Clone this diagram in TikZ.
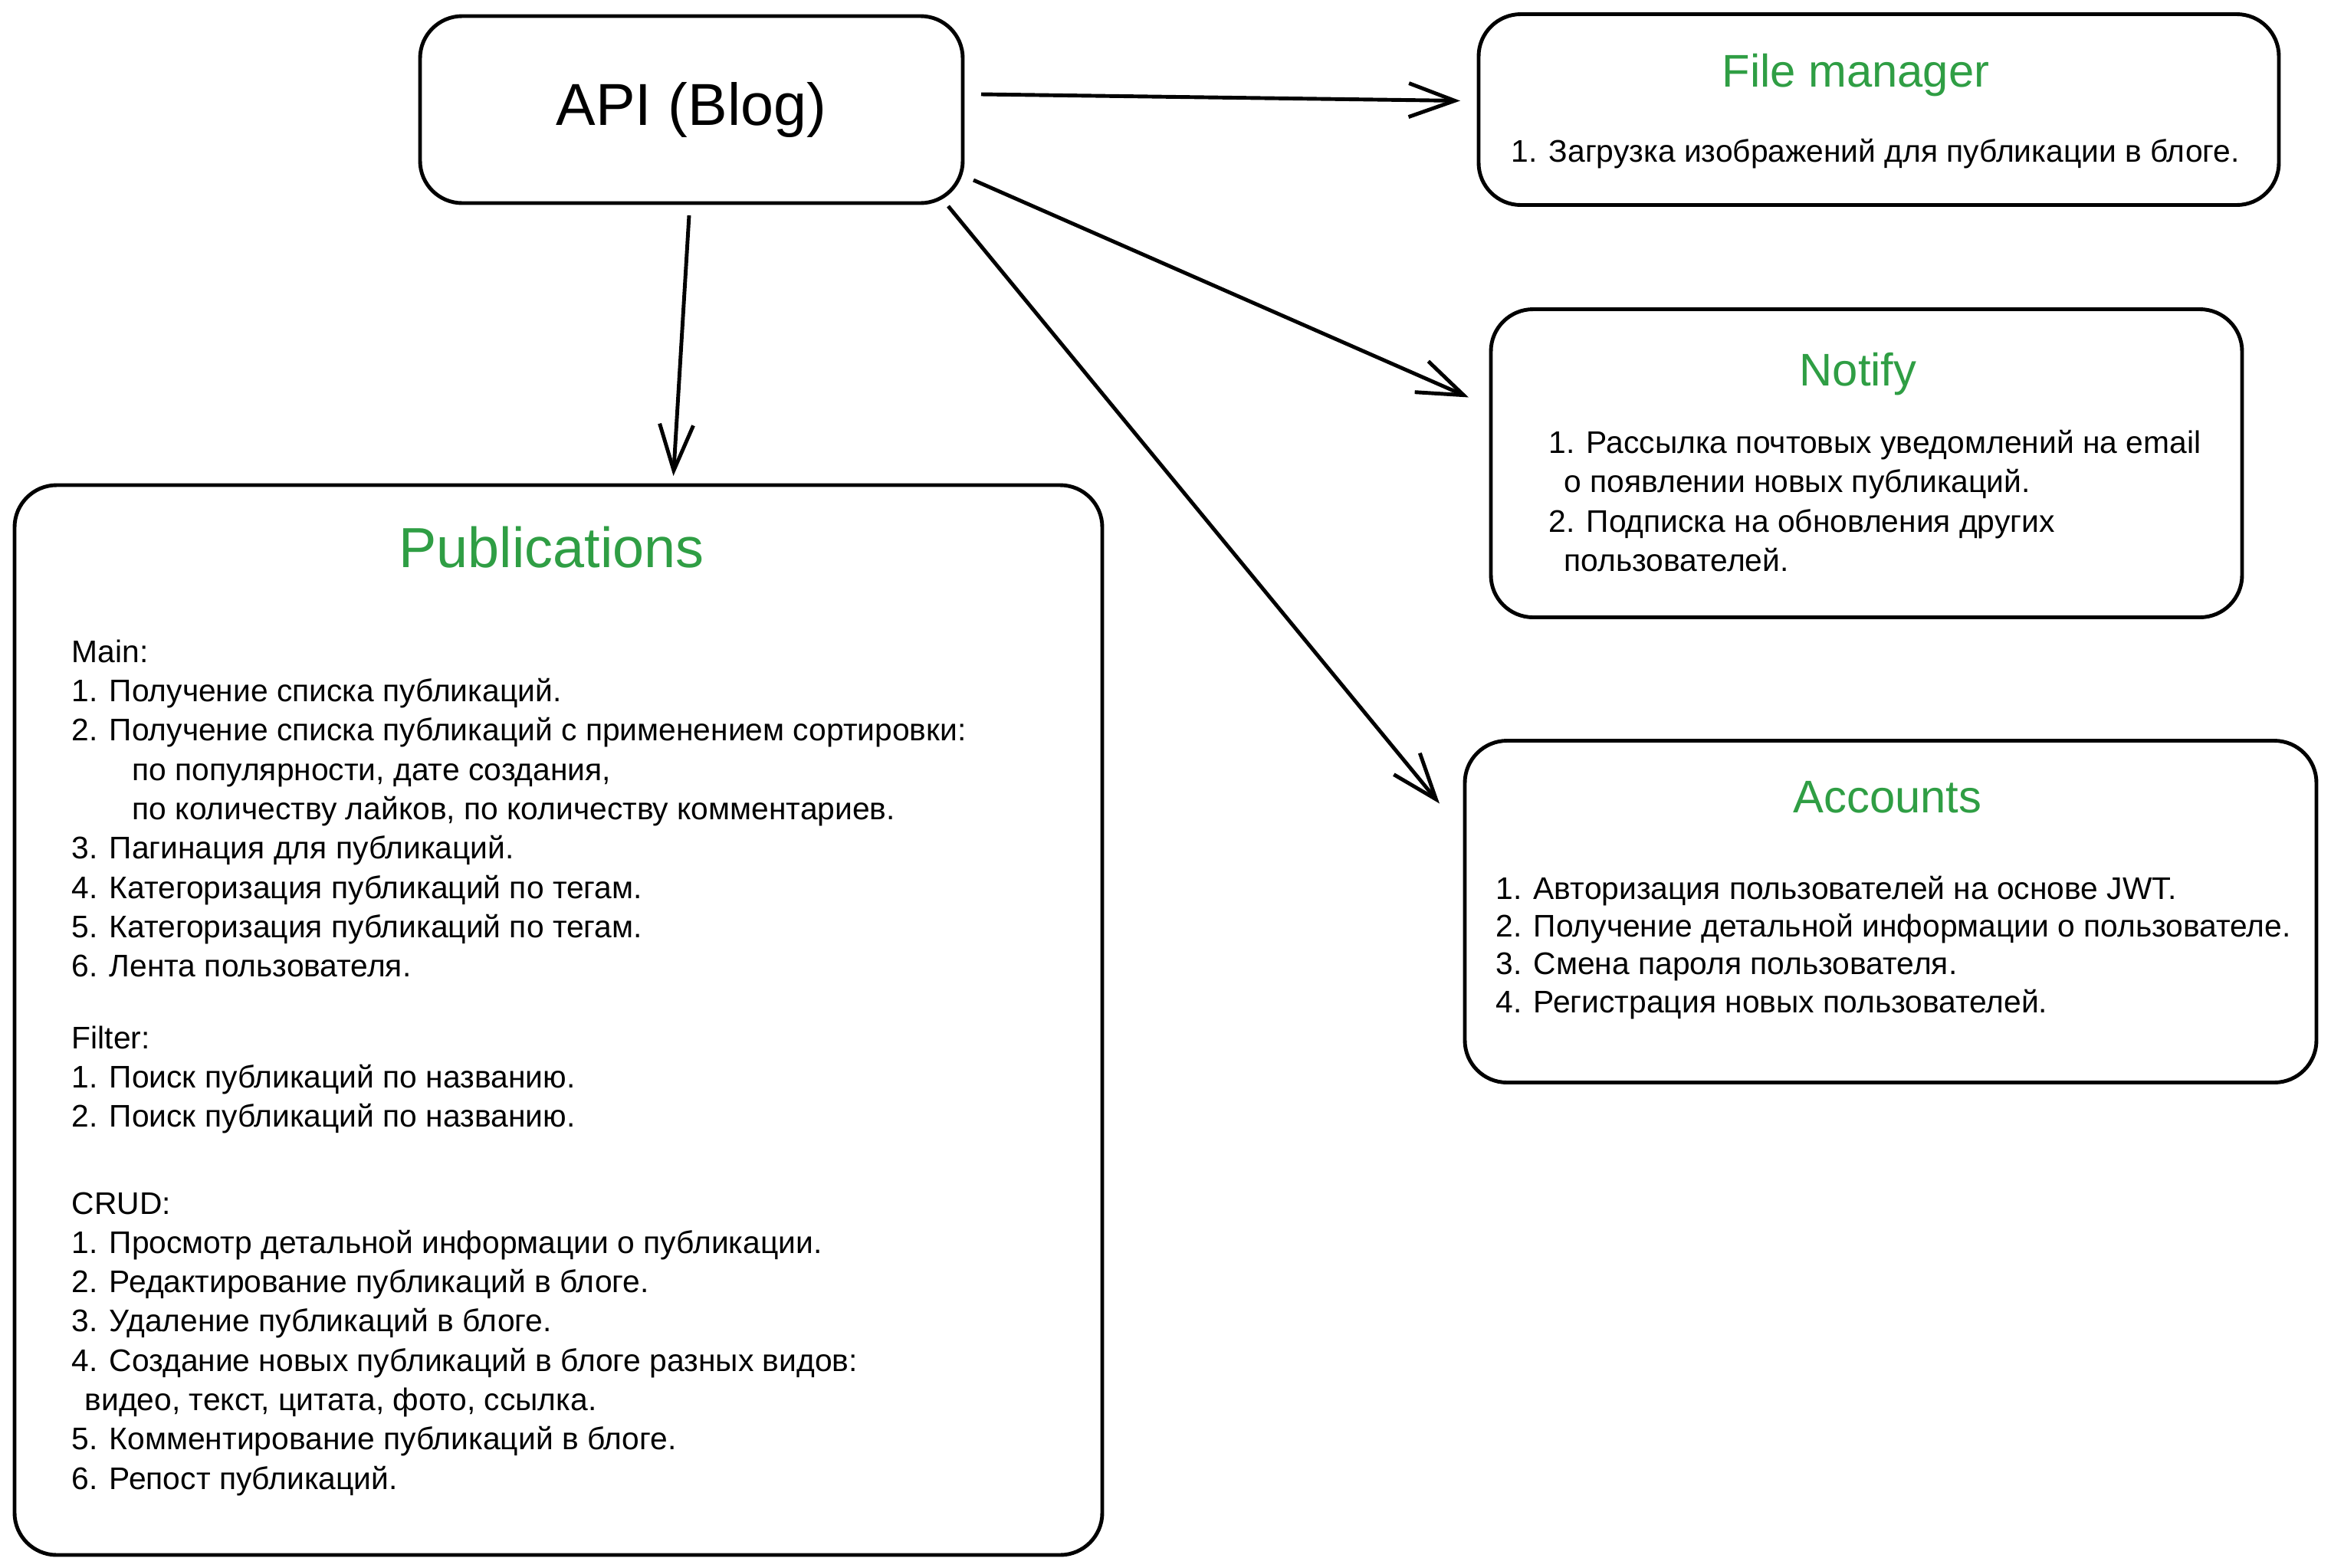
\documentclass[tikz,border=0pt]{standalone}
\usepackage{fontspec}
\setmainfont{Liberation Sans}
\usepackage{xcolor}
\usetikzlibrary{shapes,arrows.meta,positioning,calc}
\definecolor{titlegreen}{HTML}{2F9E44}

\begin{document}
\begin{tikzpicture}[
    box/.style={rectangle, draw, line width=1.4pt, rounded corners=0.55cm, outer sep=0pt, anchor=north west},
    title/.style={text=titlegreen, font=\fontsize{17}{20}\selectfont, anchor=base, inner sep=0pt},
    item/.style={align=left, font=\fontsize{11.6}{14.6}\selectfont, anchor=north west, inner sep=0pt},
    arrow/.style={-{Straight Barb[length=0.6cm, width=0.44cm]}, line width=1.4pt}
]
    \useasboundingbox[fill=white] (0,0) rectangle (30.41,-20.46);

    % API
    \node[box, minimum width=7.08cm, minimum height=2.44cm, font=\fontsize{22}{26}\selectfont] (api) at (5.48,-0.21) {API (Blog)};

    % Services
    \node[box, minimum width=10.44cm, minimum height=2.49cm, right=6.73cm of api] (fm) {};
    \node[box, minimum width=9.80cm, minimum height=4.02cm, below=1.36cm of fm, xshift=-0.16cm] (notify) {};
    \node[box, minimum width=11.11cm, minimum height=4.46cm, below=1.61cm of notify, xshift=0.315cm] (accounts) {};
    \node[box, minimum width=14.19cm, minimum height=13.96cm, below=3.68cm of api, xshift=-1.735cm] (pub) {};

    % Titles
    \node[title] (fmtitle) at ([shift={(-0.30,-0.95)}]fm.north) {File manager};
    \node[title] (notifytitle) at ([shift={(-0.11,-1.00)}]notify.north) {Notify};
    \node[title] (accountstitle) at ([shift={(-0.04,-0.94)}]accounts.north) {Accounts};
    \node[title, font=\fontsize{21}{25}\selectfont] (pubtitle) at ([shift={(-0.09,-1.07)}]pub.north) {Publications};

    % Items
    \node[item] (fmitems) at ([shift={(0.42,-1.62)}]fm.north west) {1. Загрузка изображений для публикации в блоге.};
    \node[item] (notifyitems) at ([shift={(0.75,-1.57)}]notify.north west) {1. Рассылка почтовых уведомлений на email\\
        \hspace*{0.2cm}о появлении новых публикаций.\\
        2. Подписка на обновления других\\
        \hspace*{0.2cm}пользователей.};
    \node[item, font=\fontsize{11.6}{14.0}\selectfont] (accountsitems) at ([shift={(0.40,-1.76)}]accounts.north west) {1. Авторизация пользователей на основе JWT.\\
        2. Получение детальной информации о пользователе.\\
        3. Смена пароля пользователя.\\
        4. Регистрация новых пользователей.};
    \node[item] (pubitems) at ([shift={(0.74,-2.01)}]pub.north west) {Main:\\
        1. Получение списка публикаций.\\
        2. Получение списка публикаций с применением сортировки:\\
        \hspace*{0.79cm}по популярности, дате создания,\\
        \hspace*{0.79cm}по количеству лайков, по количеству комментариев.\\
        3. Пагинация для публикаций.\\
        4. Категоризация публикаций по тегам.\\
        5. Категоризация публикаций по тегам.\\
        6. Лента пользователя.\\[0.42cm]
        Filter:\\
        1. Поиск публикаций по названию.\\
        2. Поиск публикаций по названию.\\[0.62cm]
        CRUD:\\
        1. Просмотр детальной информации о публикации.\\
        2. Редактирование публикаций в блоге.\\
        3. Удаление публикаций в блоге.\\
        4. Создание новых публикаций в блоге разных видов:\\
        \hspace*{0.17cm}видео, текст, цитата, фото, ссылка.\\
        5. Комментирование публикаций в блоге.\\
        6. Репост публикаций.};

    % Arrows
    \draw[arrow] ([shift={(0.24,0.20)}]api.east) -- ([shift={(-0.24,0.115)}]fm.west);
    \draw[arrow] ([shift={(0.14,0.30)}]api.south east) -- ([shift={(-0.29,0.86)}]notify.west);
    \draw[arrow] ([shift={(-0.19,-0.04)}]api.south east) -- ([shift={(-0.33,-0.82)}]accounts.north west);
    \draw[arrow] ([shift={(-0.03,-0.16)}]api.south) -- ([shift={(1.50,0.12)}]pub.north);
\end{tikzpicture}
\end{document}
